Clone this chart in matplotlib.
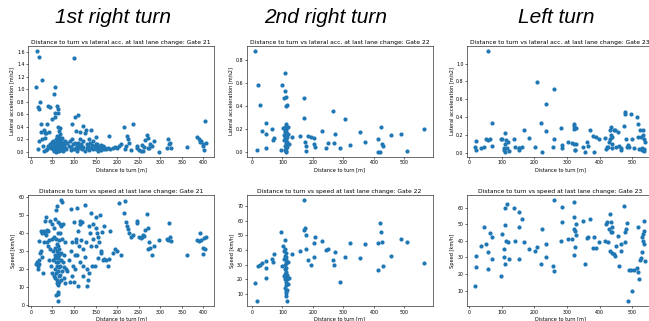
import matplotlib.pyplot as plt

# Gate 21 - 1st right turn
dist21 = [13, 14, 16, 17, 18, 18, 20, 22, 23, 24, 25, 27, 28, 30, 30, 32, 33, 35, 35, 37,
          38, 40, 40, 42, 43, 45, 45, 47, 48, 48,
          50, 51, 52, 53, 53, 54, 55, 55, 56, 56, 57, 57, 58, 58, 58, 59, 59, 60, 60, 60,
          60, 61, 61, 61, 62, 62, 62, 62, 63, 63, 63, 63, 64, 64, 64, 65, 65, 65, 66, 66,
          66, 67, 67, 68, 68, 69, 69, 70, 70, 71, 72, 72, 73, 74, 75, 76, 77, 78, 79, 80,
          82, 85, 88, 90, 92, 93, 95, 95, 98, 100, 100, 102, 103, 105, 105, 107, 108, 110, 110, 112,
          113, 115, 115, 117, 118, 120, 120, 122, 125, 125, 128, 130, 130, 132, 135, 135, 138, 140, 140, 142,
          145, 145, 148, 150, 150, 152, 153, 155, 155, 158, 160, 162, 163, 165, 168, 170, 170,
          175, 180, 182, 184, 190, 195, 200, 205, 210, 215, 218, 220, 222, 225, 228, 232, 238, 245, 246, 250,
          255, 257, 260, 262, 264, 270, 271, 272, 275, 276, 280, 285, 297, 315, 317, 320, 322, 325, 362, 385,
          390, 393, 395, 398, 400, 402, 403, 405]
lat21 = [1.04, 1.61, 0.05, 0.72, 1.51, 0.68, 0.18, 0.80, 0.44, 0.32, 0.20, 1.14, 0.10, 0.35, 0.02, 0.30, 0.22, 0.30, 0.03, 0.44,
         0.05, 0.73, 0.10, 0.32, 0.08, 0.71, 0.12, 0.06, 0.52, 0.16,
         0.10, 0.05, 0.18, 0.93, 0.02, 0.12, 0.55, 0.08, 0.15, 0.03, 1.04, 0.62, 0.10, 0.05, 0.20, 0.12, 0.00, 0.73, 0.16, 0.06,
         0.25, 0.09, 0.02, 0.14, 0.68, 0.62, 0.07, 0.11, 0.04, 0.18, 0.08, 0.21, 0.40, 0.03, 0.13, 0.34, 0.06, 0.09, 0.16, 0.01,
         0.24, 0.38, 0.05, 0.28, 0.12, 0.07, 0.19, 0.10, 0.03, 0.14, 0.06, 0.22, 0.09, 0.02, 0.15, 0.08, 0.11, 0.04, 0.17, 0.06,
         0.05, 0.15, 0.10, 0.18, 0.03, 0.08, 0.44, 0.20, 0.12, 1.50, 0.05, 0.14, 0.55, 0.33, 0.07, 0.10, 0.02, 0.59, 0.15, 0.06,
         0.20, 0.31, 0.09, 0.12, 0.04, 0.41, 0.18, 0.08, 0.30, 0.02, 0.35, 0.13, 0.06, 0.10, 0.20, 0.03, 0.15, 0.35, 0.07, 0.11,
         0.18, 0.04, 0.09, 0.13, 0.24, 0.05, 0.12, 0.02, 0.08, 0.06, 0.09, 0.03, 0.11, 0.07, 0.10, 0.04, 0.08,
         0.05, 0.07, 0.26, 0.04, 0.06, 0.08, 0.07, 0.10, 0.12, 0.39, 0.05, 0.09, 0.26, 0.20, 0.14, 0.03, 0.44, 0.09, 0.06, 0.03,
         0.01, 0.11, 0.02, 0.08, 0.19, 0.27, 0.06, 0.22, 0.07, 0.12, 0.10, 0.17, 0.00, 0.06, 0.21, 0.13, 0.15, 0.07, 0.08, 0.24,
         0.20, 0.16, 0.18, 0.12, 0.10, 0.03, 0.49, 0.14]
speed21 = [23, 24, 22, 20, 35.5, 25, 23, 29, 30, 41, 27, 40, 18, 41, 35, 40, 47, 49, 39, 35,
           42, 33, 41, 25, 36, 47, 31, 22, 37, 18,
           45, 25, 30, 43, 16, 38, 28, 15, 48, 20, 32, 26, 53, 5.5, 37, 18, 24, 55, 30, 12,
           22, 34, 27, 14, 6, 29, 19, 40, 2, 46, 24, 11, 7, 33, 26, 21, 16, 36, 28, 13,
           31, 45, 22, 17, 40, 25, 29, 58.5, 14, 44, 57.5, 19, 37, 24, 45, 15, 28, 21, 35, 12,
           20, 19, 25, 13, 30, 53.5, 16, 35, 22, 46, 13, 28, 20, 37, 35, 54, 28, 41, 10.5, 33,
           24, 47, 45, 36, 46, 16, 31, 22, 56, 27, 35, 10.5, 20, 14, 44, 18, 40, 51.5, 33, 22,
           45, 37, 22, 49, 33, 43, 40, 38, 26, 35, 50, 30, 29, 40.5, 25, 25.5, 44,
           25, 22, 25.5, 41.5, 29, 31, 30, 57, 28, 51.5, 58, 46, 44, 42.5, 40, 38, 39, 47, 45.5, 38,
           37.5, 38, 39, 38.5, 42, 51, 31, 43, 35, 31.5, 28, 33, 36.5, 37, 36, 45.5, 38, 35.5, 28, 36,
           35.5, 40, 36, 28.5, 32, 37.5, 31, 38]

# Gate 22 - 2nd right turn
dist22 = [10, 15, 20, 25, 33, 45, 45, 45, 65, 68, 72, 95, 98,
          103, 105, 105, 106, 107, 107, 108, 108, 108, 109, 109, 109, 110, 110, 110, 110,
          111, 111, 111, 112, 112, 112, 113, 113, 114, 115, 115, 116, 117, 118, 120,
          130, 158, 170, 172, 175, 176, 177, 183, 194, 205, 205, 207, 230, 243, 249, 265,
          268, 272, 289, 306, 322, 355, 370, 412, 415, 420, 422, 427, 430, 455, 490, 510, 565]
lat22 = [0.88, 0.02, 0.58, 0.41, 0.18, 0.25, 0.16, 0.03, 0.20, 0.10, 0.12, 0.02, 0.58,
         0.21, 0.47, 0.10, 0.15, 0.02, 0.19, 0.69, 0.53, 0.12, 0.05, 0.22, 0.17, 0.48, 0.40, 0.00, 0.08,
         0.14, 0.24, 0.03, 0.11, 0.18, 0.06, 0.20, 0.01, 0.13, 0.41, 0.09, 0.04, 0.16, 0.22, 0.07,
         0.13, 0.14, 0.47, 0.30, 0.09, 0.05, 0.01, 0.14, 0.13, 0.12, 0.07, 0.04, 0.18, 0.03, 0.08, 0.36,
         0.08, 0.16, 0.03, 0.29, 0.06, 0.17, 0.09, 0.11, 0.00, 0.00, 0.22, 0.07, 0.05, 0.15, 0.16, 0.01, 0.20]
speed22 = [17.5, 5.5, 29, 30, 31, 32.5, 27.5, 21, 34, 32, 37.5, 52, 29,
           43, 34, 22, 39, 30, 24, 46.5, 36, 20, 14, 41, 27, 33, 25, 12, 18,
           38, 22, 9, 31, 16, 28, 11, 35, 20, 23, 13, 5, 17, 32, 21,
           37, 39, 53.5, 74, 55, 41, 50.5, 33, 30, 35, 45, 49, 46, 40, 41, 33,
           30, 38.5, 18, 35, 44.5, 34.5, 44, 44.5, 26.5, 58.5, 52.5, 45.5, 29, 36, 47.5, 45.5, 31]

# Gate 23 - left turn
dist23 = [20, 23, 23, 38, 45, 52, 57, 59, 64, 69, 71, 97, 101, 107, 107, 109, 111, 111, 114, 117,
          119, 121, 138, 140, 152, 152, 154, 161, 167, 183, 202, 207, 219, 224, 235, 236, 257, 261, 261, 283,
          286, 286, 303, 316, 320, 321, 322, 323, 323, 321, 328, 328, 348, 356, 360, 365, 370, 378, 381, 390,
          398, 415, 420, 423, 425, 428, 430, 431, 433, 433, 436, 436, 438, 443, 446, 451, 456, 460, 465, 466,
          473, 476, 478, 480, 483, 486, 488, 496, 500, 506, 513, 516, 518, 520, 523, 526, 528, 530, 532, 533,
          534, 535, 535, 537]
lat23 = [0.06, 0.13, 0.03, 0.05, 0.06, 0.16, 1.14, 0.14, 0.16, 0.08, 0.33, 0.15, 0.16, 0.05, 0.03, 0.10, 0.22, 0.01, 0.14, 0.05,
         0.12, 0.02, 0.16, 0.06, 0.03, 0.05, 0.05, 0.06, 0.26, 0.17, 0.07, 0.79, 0.33, 0.01, 0.24, 0.55, 0.06, 0.72, 0.15, 0.28,
         0.05, 0.09, 0.12, 0.11, 0.30, 0.27, 0.32, 0.03, 0.03, 0.10, 0.28, 0.10, 0.07, 0.01, 0.12, 0.08, 0.25, 0.19, 0.01, 0.18,
         0.15, 0.17, 0.04, 0.07, 0.06, 0.12, 0.16, 0.25, 0.29, 0.20, 0.10, 0.18, 0.05, 0.25, 0.25, 0.06, 0.23, 0.08, 0.03, 0.05,
         0.30, 0.46, 0.44, 0.16, 0.06, 0.09, 0.07, 0.44, 0.16, 0.05, 0.40, 0.18, 0.32, 0.04, 0.26, 0.18, 0.05, 0.03, 0.20, 0.26,
         0.16, 0.04, 0.02, 0.12]
speed23 = [13, 30.6, 24, 37, 48, 38, 33, 23, 44.5, 29, 42, 19, 44, 35, 30.5, 59.5, 49.5, 26, 40, 62,
           39.5, 29, 60, 40, 57.5, 48, 29, 53, 39, 35, 34, 36, 26, 47, 38, 30, 25, 22, 64.5, 40,
           60.5, 51, 41, 41, 54, 63.5, 47, 46, 36, 31.5, 43.5, 50, 52, 26, 41.5, 42, 53, 35.5, 42.5, 35.5,
           39.5, 40, 50, 51.5, 39, 47, 56, 34, 45, 51, 32.5, 45, 48.5, 32, 31, 37, 43, 25, 34, 38,
           61, 39.5, 45.5, 47, 50.5, 3.5, 22.5, 22.5, 9.5, 22.5, 23.5, 21.5, 48.5, 17, 28.5, 29.5, 33, 42, 40, 44,
           52, 46, 38, 28]

gates = ['21', '22', '23']
headers = ['1st right turn', '2nd right turn', 'Left turn']
header_x = [0.174, 0.502, 0.857]
dists = [dist21, dist22, dist23]
lats = [lat21, lat22, lat23]
speeds = [speed21, speed22, speed23]

fig = plt.figure(figsize=(6.49, 3.21), dpi=100)

lefts = [0.0431, 0.3800, 0.7196]
w = 0.2866
for i in range(3):
    ax_top = fig.add_axes([lefts[i], 0.511, w, 0.3458])
    ax_bot = fig.add_axes([lefts[i], 0.0452, w, 0.3474])

    ax_top.scatter(dists[i], lats[i], s=9, color='#1f77b4', linewidths=0)
    ax_top.set_title('Distance to turn vs lateral acc. at last lane change: Gate ' + gates[i],
                     fontsize=4.3, pad=1.5)
    ax_top.set_xlabel('Distance to turn [m]', fontsize=3.6, labelpad=1)
    ax_top.set_ylabel('Lateral acceleration [m/s2]', fontsize=3.6, labelpad=1.5)

    ax_bot.scatter(dists[i], speeds[i], s=9, color='#1f77b4', linewidths=0)
    ax_bot.set_title('Distance to turn vs speed at last lane change: Gate ' + gates[i],
                     fontsize=4.3, pad=1.5)
    ax_bot.set_xlabel('Distance to turn [m]', fontsize=3.6, labelpad=1)
    ax_bot.set_ylabel('Speed [km/h]', fontsize=3.6, labelpad=1.5)

    for ax in (ax_top, ax_bot):
        ax.tick_params(labelsize=3.4, length=1.5, width=0.4, pad=1)
        for sp in ax.spines.values():
            sp.set_linewidth(0.4)

    fig.text(header_x[i], 0.945, headers[i], ha='center', va='center',
             fontsize=15, style='italic', family='Liberation Sans')

fig.savefig('out.png', dpi=100)
